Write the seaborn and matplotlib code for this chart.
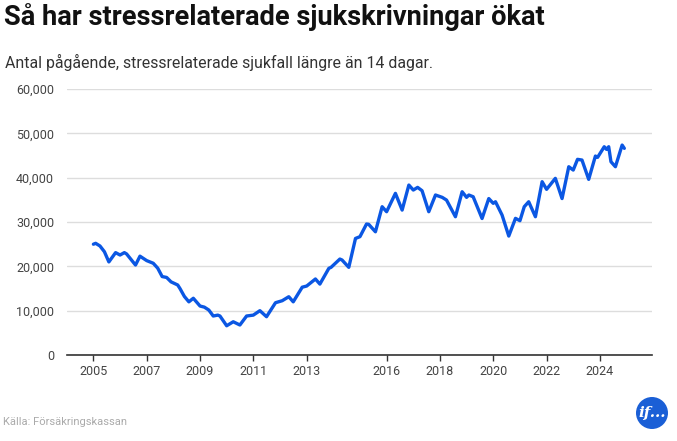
import pandas as pd
import numpy as np
import matplotlib
matplotlib.use('Agg')
import matplotlib.pyplot as plt
import matplotlib.dates as mdates
import matplotlib.ticker as mticker
from matplotlib.patches import Ellipse
import seaborn as sns

# Data (month, number of ongoing cases)
months = [
    '2005-01', '2005-02', '2005-04', '2005-06', '2005-08', '2005-11',
    '2006-01', '2006-03', '2006-04', '2006-08', '2006-10',
    '2007-01', '2007-04', '2007-06', '2007-08', '2007-10', '2007-12',
    '2008-03', '2008-04', '2008-06', '2008-08', '2008-10',
    '2009-01', '2009-03', '2009-05', '2009-07', '2009-09', '2009-10',
    '2010-01', '2010-04', '2010-07', '2010-10',
    '2011-01', '2011-04', '2011-07', '2011-11',
    '2012-02', '2012-05', '2012-07', '2012-11',
    '2013-01', '2013-05', '2013-07', '2013-11', '2013-12',
    '2014-04', '2014-05', '2014-08', '2014-11',
    '2015-01', '2015-04', '2015-05', '2015-08', '2015-11',
    '2016-01', '2016-05', '2016-08', '2016-11',
    '2017-01', '2017-03', '2017-05', '2017-08', '2017-11',
    '2018-02', '2018-04', '2018-08', '2018-11',
    '2019-01', '2019-02', '2019-04', '2019-08', '2019-11',
    '2020-01', '2020-02', '2020-05', '2020-08', '2020-11',
    '2021-01', '2021-03', '2021-05', '2021-08', '2021-11',
    '2022-01', '2022-05', '2022-08', '2022-11',
    '2023-01', '2023-03', '2023-05', '2023-08', '2023-11', '2023-12',
    '2024-03', '2024-04', '2024-05', '2024-06', '2024-08', '2024-11', '2024-12',
]
cases = [
    25000, 25200, 24600, 23300, 21000, 23100,
    22560, 23100, 22800, 20300, 22300,
    21300, 20700, 19600, 17700, 17500, 16500,
    15800, 15000, 13200, 12000, 12800,
    11050, 10800, 10150, 8800, 9000, 8800,
    6600, 7500, 6770, 8800,
    9000, 10000, 8640, 11800,
    12250, 13150, 12000, 15300,
    15560, 17150, 16000, 19560, 19780,
    21650, 21430, 19780, 26300,
    26700, 29550, 29480, 27800, 33460,
    32330, 36470, 32700, 38350,
    37220, 37820, 37070, 32330, 36100,
    35570, 34960, 31200, 36840,
    35570, 36100, 35710, 30800, 35300,
    34220, 34580, 31580, 26840, 30830,
    30300, 33460, 34580, 31200, 39100,
    37380, 39860, 35300, 42480,
    41730, 44150, 43990, 39630, 44890, 44600,
    46990, 46400, 46990, 43610, 42480, 47370, 46630,
]
tick_years = [2005, 2007, 2009, 2011, 2013, 2016, 2018, 2020, 2022, 2024]
y_ticks = [0, 10000, 20000, 30000, 40000, 50000, 60000]

title = 'Så har stressrelaterade sjukskrivningar ökat'
subtitle = 'Antal pågående, stressrelaterade sjukfall längre än 14 dagar.'
source = 'Källa: Försäkringskassan'

LINE_BLUE = '#0b57e3'

sns.set_theme(style='white')
plt.rcParams['font.family'] = ['Roboto', 'DejaVu Sans']

df = pd.DataFrame({'month': pd.to_datetime(months), 'cases': cases})

W, H = 677, 441
fig = plt.figure(figsize=(W / 100, H / 100), dpi=100)
ax = fig.add_axes([0.0985, 0.195, 0.864, 0.603])

sns.lineplot(data=df, x='month', y='cases', ax=ax, color=LINE_BLUE,
             linewidth=2.4, solid_joinstyle='round', solid_capstyle='round')

ax.set_xlim(pd.Timestamp('2004-01-01'), pd.Timestamp('2025-12-10'))
ax.set_ylim(0, 60000)
ax.set_xticks([pd.Timestamp(f'{y}-01-01') for y in tick_years])
ax.xaxis.set_major_formatter(mdates.DateFormatter('%Y'))
ax.set_yticks(y_ticks)
ax.yaxis.set_major_formatter(mticker.FuncFormatter(lambda v, p: f'{int(v):,}'))

ax.grid(axis='y', color='#dddddd', linewidth=1)
ax.grid(axis='x', visible=False)
for s in ['top', 'right', 'left']:
    ax.spines[s].set_visible(False)
ax.spines['bottom'].set_color('#333333')
ax.spines['bottom'].set_linewidth(1.2)
ax.tick_params(axis='x', length=4, width=1, color='#333333', colors='#444444',
               labelsize=9, pad=3, bottom=True)
ax.tick_params(axis='y', length=0, colors='#444444', labelsize=9, pad=9)
ax.set_xlabel('')
ax.set_ylabel('')

fig.text(0.006, 0.962, title, fontsize=19.6, fontweight='bold', color='#111111',
         ha='left', va='center')
fig.text(0.007, 0.858, subtitle, fontsize=11.4, color='#333333',
         ha='left', va='center')
fig.text(0.005, 0.043, source, fontsize=8, color='#aaaaaa',
         ha='left', va='center')

# "if" logo in the bottom right corner
r = 16
logo = Ellipse((652 / W, 1 - 413 / H), 2 * r / W, 2 * r / H,
               transform=fig.transFigure, facecolor='#1a5fd6', edgecolor='none')
fig.patches.append(logo)
fig.text(652 / W, 1 - 413 / H, 'if...', fontsize=11, color='white', style='italic',
         fontweight='bold', family='DejaVu Serif', ha='center', va='center')

fig.savefig('out.png', dpi=100)
plt.close(fig)
